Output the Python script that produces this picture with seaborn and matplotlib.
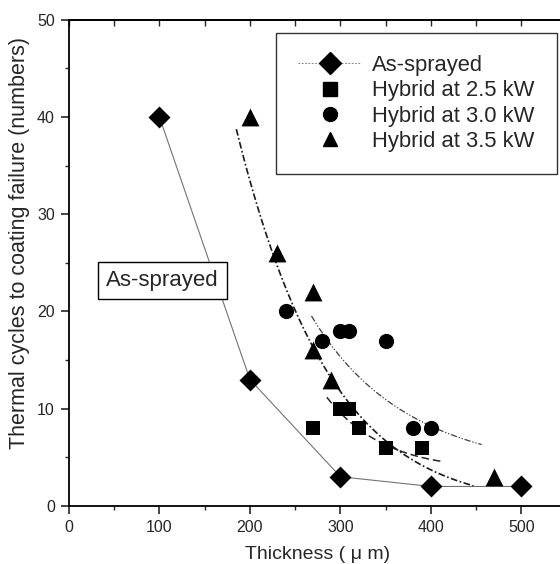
import numpy as np
import pandas as pd
import matplotlib
matplotlib.use("Agg")
import matplotlib.pyplot as plt
from matplotlib.ticker import MultipleLocator
import seaborn as sns

as_x = [100, 200, 300, 400, 500]
as_y = [40, 13, 3, 2, 2]

h25_x = [270, 300, 310, 320, 350, 390]
h25_y = [8, 10, 10, 8, 6, 6]

h30_x = [240, 280, 300, 310, 350, 380, 400]
h30_y = [20, 17, 18, 18, 17, 8, 8]

h35_x = [200, 230, 270, 270, 290, 470]
h35_y = [40, 26, 22, 16, 13, 3]

# trend lines drawn in the figure, read at a few positions along each curve
trend25_x = [285, 329, 377, 413]
trend25_y = [11.1, 7.5, 5.2, 4.6]
trend30_x = [268, 299, 344, 406, 456]
trend30_y = [19.4, 15.7, 11.2, 8.0, 6.3]
trend35_x = [185, 230, 261, 290, 329, 377, 421, 447]
trend35_y = [38, 26, 17.8, 13, 8.1, 5.0, 3.0, 2.0]

labels = ["As-sprayed", "Hybrid at 2.5 kW", "Hybrid at 3.0 kW", "Hybrid at 3.5 kW"]
markers = {"As-sprayed": "D", "Hybrid at 2.5 kW": "s",
           "Hybrid at 3.0 kW": "o", "Hybrid at 3.5 kW": "^"}
sizes = {"As-sprayed": 125, "Hybrid at 2.5 kW": 90,
         "Hybrid at 3.0 kW": 120, "Hybrid at 3.5 kW": 165}

df = pd.concat([
    pd.DataFrame({"x": as_x, "y": as_y, "series": labels[0]}),
    pd.DataFrame({"x": h25_x, "y": h25_y, "series": labels[1]}),
    pd.DataFrame({"x": h30_x, "y": h30_y, "series": labels[2]}),
    pd.DataFrame({"x": h35_x, "y": h35_y, "series": labels[3]}),
])

trends = [
    (trend25_x, trend25_y, dict(ls=(0, (5, 2.5)), lw=1.1, color="0.15")),
    (trend30_x, trend30_y, dict(ls=(0, (5, 1.5, 1, 1.5, 1, 1.5)), lw=0.9, color="0.25")),
    (trend35_x, trend35_y, dict(ls=(0, (4, 1.5, 1, 1.5)), lw=1.2, color="0.1")),
]

sns.set_style("white")
plt.rcParams["font.family"] = ["Liberation Sans", "DejaVu Sans"]

fig = plt.figure(figsize=(5.6, 5.64), dpi=100)
ax = fig.add_axes([0.123, 0.103, 0.889, 0.862])

# as-sprayed connecting line
sns.lineplot(data=df[df.series == labels[0]], x="x", y="y", ax=ax,
             color="0.45", lw=0.8, legend=False, zorder=1)

# smooth trend lines (quadratic in log space through the read positions)
for tx, ty, style in trends:
    coef = np.polyfit(tx, np.log(ty), 2)
    xs = np.linspace(min(tx), max(tx), 100)
    ax.plot(xs, np.exp(np.polyval(coef, xs)), zorder=1, **style)

for lab in labels:
    sub = df[df.series == lab]
    sns.scatterplot(data=sub, x="x", y="y", ax=ax, marker=markers[lab],
                    s=sizes[lab], color="black", edgecolor="black",
                    linewidth=0, zorder=3, legend=False)

# legend
handles = [plt.Line2D([], [], marker=markers[lab], color="black",
                      ls=(0, (2, 2)) if lab == labels[0] else "none",
                      lw=0.6, markersize=11 if lab == labels[0] else 10)
           for lab in labels]
handles[0].set_color("0.4")
handles[0].set_markerfacecolor("black")
handles[0].set_markeredgecolor("black")
leg = ax.legend(handles, labels, loc="upper right",
                bbox_to_anchor=(0.98, 0.973), fontsize=15.8, frameon=True,
                fancybox=False, edgecolor="black", handlelength=2.9,
                handletextpad=0.5, labelspacing=0.2, borderpad=1.0,
                borderaxespad=0)
leg.get_frame().set_linewidth(1.0)

ax.text(103.5, 23.2, "As-sprayed", fontsize=16, ha="center", va="center",
        bbox=dict(boxstyle="square,pad=0.36", fc="white", ec="black", lw=1.0),
        zorder=2)

ax.set_xlim(0, 550)
ax.set_ylim(0, 50)
ax.xaxis.set_major_locator(MultipleLocator(100))
ax.xaxis.set_minor_locator(MultipleLocator(50))
ax.yaxis.set_major_locator(MultipleLocator(10))
ax.yaxis.set_minor_locator(MultipleLocator(5))
ax.tick_params(which="major", direction="out", length=6, width=1.2,
               labelsize=11.5, bottom=True, left=True, top=False, pad=4)
ax.tick_params(which="minor", direction="out", length=3, width=1.0,
               bottom=True, left=True, top=False)

# inward ticks along the top frame
top = ax.secondary_xaxis("top")
top.xaxis.set_major_locator(MultipleLocator(50))
top.tick_params(direction="in", length=4, width=1.0, labeltop=False)
top.spines["top"].set_linewidth(1.3)

for side in ["left", "bottom", "top", "right"]:
    ax.spines[side].set_color("black")
    ax.spines[side].set_linewidth(1.3)

ax.set_xlabel("Thickness ( \u03bc m)", fontsize=14, labelpad=8)
ax.set_ylabel("Thermal cycles to coating failure (numbers)", fontsize=15.5)
ax.yaxis.set_label_coords(-0.078, 0.54)

fig.savefig("out.png", dpi=100)
